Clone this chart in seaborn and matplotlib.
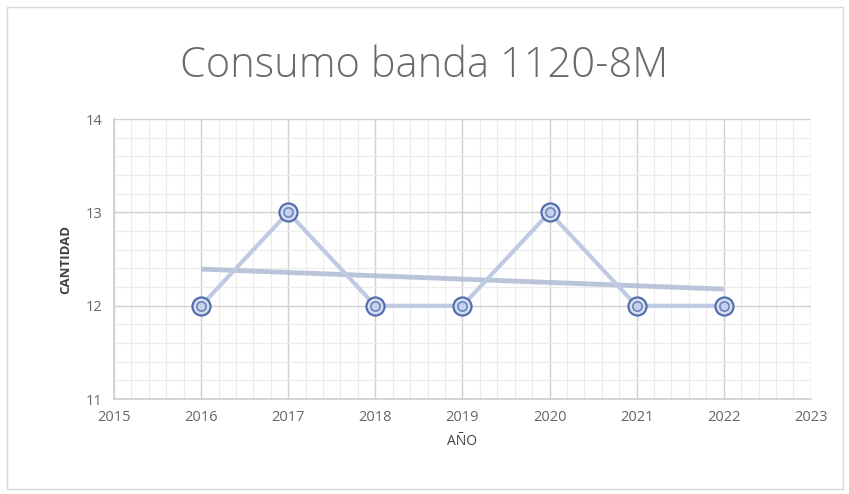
import numpy as np
import pandas as pd
import matplotlib
matplotlib.use("Agg")
import matplotlib.pyplot as plt
from matplotlib.ticker import MultipleLocator
import seaborn as sns

years = [2016, 2017, 2018, 2019, 2020, 2021, 2022]
cantidad = [12, 13, 12, 12, 13, 12, 12]
title = "Consumo banda 1120-8M"
xlabel = "AÑO"
ylabel = "CANTIDAD"

df = pd.DataFrame({"year": years, "cantidad": cantidad})

sns.set_theme(style="white")
plt.rcParams["font.family"] = ["Open Sans", "DejaVu Sans"]

fig = plt.figure(figsize=(8.49, 4.94), dpi=100)
ax = fig.add_axes([0.1343, 0.192, 0.8207, 0.567])

# grid
ax.xaxis.set_major_locator(MultipleLocator(1))
ax.xaxis.set_minor_locator(MultipleLocator(0.2))
ax.yaxis.set_major_locator(MultipleLocator(1))
ax.yaxis.set_minor_locator(MultipleLocator(0.2))
ax.grid(which="major", color="#d0d0d0", lw=1.0)
ax.grid(which="minor", color="#ececec", lw=0.8)
ax.set_axisbelow(True)

line_c = "#bfcae3"
sns.lineplot(data=df, x="year", y="cantidad", ax=ax, color=line_c, lw=3, zorder=3)

# linear trend line
coef = np.polyfit(df["year"], df["cantidad"], 1)
tx = np.array([years[0], years[-1]])
ax.plot(tx, np.polyval(coef, tx), color="#b0bbd3", lw=3.5, alpha=0.85, zorder=2,
        solid_capstyle="butt")

sns.scatterplot(data=df, x="year", y="cantidad", ax=ax, s=170, color="#d5ddef",
                edgecolor="#4d6aaa", linewidth=1.5, zorder=4)
sns.scatterplot(data=df, x="year", y="cantidad", ax=ax, s=45, color="#c5d0ea",
                edgecolor="#6580bd", linewidth=1.1, zorder=5)

ax.set_xlim(2015, 2023)
ax.set_ylim(11, 14)
ax.set_xticks(range(2015, 2024))
ax.set_yticks([11, 12, 13, 14])
ax.tick_params(axis="both", which="both", length=0, labelsize=10.5, colors="#666666", pad=8)

for s in ax.spines.values():
    s.set_visible(False)
for side in ("bottom", "left"):
    ax.spines[side].set_visible(True)
    ax.spines[side].set_color("#d0d0d0")

ax.set_xlabel(xlabel, fontsize=10, color="#404040", labelpad=6)
ax.set_ylabel(ylabel, fontsize=9.5, color="#404040", fontweight="bold", labelpad=10)

fig.text(0.5, 0.866, title, ha="center", va="center", fontsize=30, color="#6a6a6a",
         fontweight="light")

# outer border
fig.patches.append(plt.Rectangle((0.008, 0.01), 0.985, 0.975, transform=fig.transFigure,
                                 fill=False, edgecolor="#d9d9d9", lw=1))

fig.savefig("out.png", dpi=100)
